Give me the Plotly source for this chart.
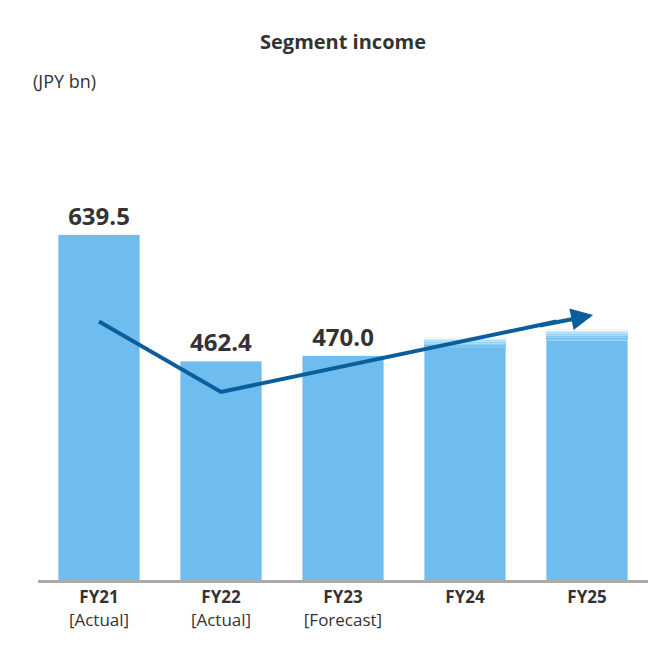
import plotly.graph_objects as go

years = ["FY21", "FY22", "FY23", "FY24", "FY25"]
tick_labels = ["<b>FY21</b><br>[Actual]", "<b>FY22</b><br>[Actual]",
               "<b>FY23</b><br>[Forecast]", "<b>FY24</b>", "<b>FY25</b>"]
income = [639.5, 462.4, 470.0, 482.0, 492.0]
labels = ["639.5", "462.4", "470.0", "", ""]
# soft fade on top of the outlook bars
fade = [0, 0, 0, 14.0, 16.0]
trend_x = [0, 1, 3.75]
trend_y = [518, 419, 518]

bar_color = "#6ebdee"
fig = go.Figure()
fig.add_trace(go.Bar(x=list(range(5)), y=income, marker_color=bar_color, width=0.667,
                     text=labels, textposition="outside",
                     textfont=dict(size=24, color="#333333", family="Open Sans"),
                     texttemplate="<b>%{text}</b>", cliponaxis=False))
steps = [0.85, 0.7, 0.55, 0.4, 0.25, 0.1]
for op in steps:
    fig.add_trace(go.Bar(x=list(range(5)), y=[f / len(steps) for f in fade], width=0.667,
                         marker=dict(color=bar_color, opacity=op, line_width=0)))

fig.add_trace(go.Scatter(x=trend_x, y=trend_y, mode="lines",
                         line=dict(color="#0b5e9c", width=4)))
fig.add_annotation(x=4.05, y=527, ax=3.6, ay=512, xref="x", yref="y",
                   axref="x", ayref="y", showarrow=True, arrowhead=2,
                   arrowsize=1.1, arrowwidth=4, arrowcolor="#0b5e9c", text="")

fig.add_annotation(text="<b>Segment income</b>", xref="paper", yref="paper",
                   x=0.5, y=1.0, yshift=74, xanchor="center", showarrow=False,
                   font=dict(size=20, color="#333333"))
fig.add_annotation(text="(JPY bn)", xref="paper", yref="paper", x=-0.012, y=1.0,
                   yshift=33, xanchor="left", showarrow=False,
                   font=dict(size=18, color="#333333"))

fig.update_layout(
    width=670, height=660, barmode="stack", showlegend=False,
    plot_bgcolor="white", paper_bgcolor="white",
    margin=dict(l=30, r=30, t=92, b=88),
    font=dict(family="Open Sans", color="#333333"),
    xaxis=dict(range=[-0.5, 4.5], tickvals=list(range(5)), ticktext=tick_labels,
               tickfont=dict(size=17, color="#333333"), showline=True, automargin=False,
               linecolor="#aaaaaa", linewidth=3, showgrid=False, ticks=""),
    yaxis=dict(range=[155, 829], visible=False),
)
fig.write_html("out.html")
